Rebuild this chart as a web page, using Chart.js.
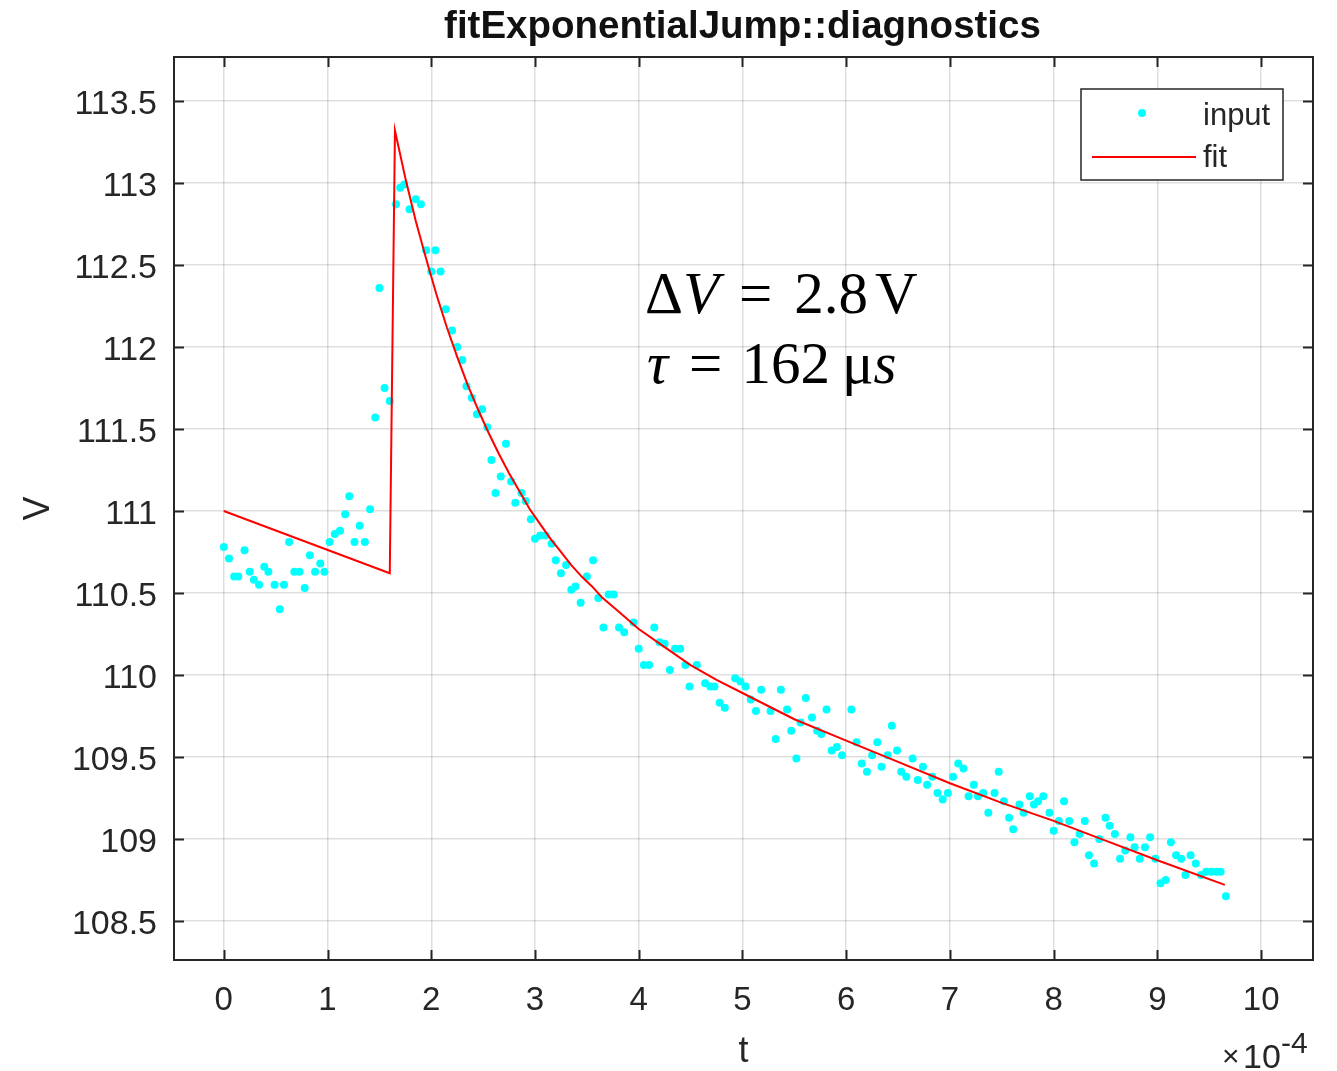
<!DOCTYPE html>
<html>
<head>
<meta charset="utf-8">
<title>fitExponentialJump::diagnostics</title>
<script src="https://cdn.jsdelivr.net/npm/chart.js@4.4.0/dist/chart.umd.min.js"></script>
<style>
  html, body { margin: 0; padding: 0; background: #fff; }
  #wrap { width: 1337px; height: 1071px; }
</style>
</head>
<body>
<div id="wrap"><canvas id="chart" width="1337" height="1071"></canvas></div>
<script>
// Data (t in units of 1e-4 s, V in volts)
const tInput = [
  0.00, 0.05, 0.10, 0.14, 0.20, 0.25, 0.29, 0.34, 0.39, 0.43,
  0.49, 0.54, 0.58, 0.63, 0.68, 0.73, 0.78, 0.83, 0.88, 0.93,
  0.97, 1.02, 1.07, 1.12, 1.17, 1.21, 1.26, 1.31, 1.36, 1.41,
  1.46, 1.50, 1.55, 1.60, 1.66, 1.70, 1.74, 1.79, 1.85, 1.90,
  1.95, 2.00, 2.04, 2.09, 2.14, 2.20, 2.25, 2.30, 2.34, 2.39,
  2.44, 2.49, 2.54, 2.58, 2.62, 2.67, 2.72, 2.77, 2.81, 2.87,
  2.91, 2.96, 3.00, 3.05, 3.10, 3.16, 3.20, 3.25, 3.30, 3.35,
  3.39, 3.44, 3.50, 3.56, 3.61, 3.66, 3.71, 3.76, 3.81, 3.86,
  3.95, 4.00, 4.05, 4.10, 4.15, 4.20, 4.25, 4.30, 4.35, 4.40,
  4.45, 4.49, 4.56, 4.64, 4.69, 4.73, 4.78, 4.83, 4.93, 4.98,
  5.03, 5.08, 5.13, 5.18, 5.27, 5.32, 5.37, 5.43, 5.47, 5.52,
  5.56, 5.61, 5.67, 5.72, 5.76, 5.81, 5.86, 5.91, 5.96, 6.05,
  6.10, 6.15, 6.20, 6.25, 6.30, 6.34, 6.40, 6.44, 6.49, 6.53,
  6.58, 6.64, 6.69, 6.74, 6.78, 6.83, 6.88, 6.93, 6.98, 7.03,
  7.08, 7.13, 7.18, 7.23, 7.27, 7.32, 7.37, 7.43, 7.47, 7.52,
  7.57, 7.61, 7.67, 7.71, 7.77, 7.81, 7.85, 7.90, 7.96, 8.00,
  8.05, 8.10, 8.15, 8.20, 8.25, 8.30, 8.34, 8.39, 8.44, 8.50,
  8.54, 8.59, 8.64, 8.69, 8.74, 8.78, 8.83, 8.88, 8.93, 8.98,
  9.03, 9.08, 9.13, 9.18, 9.23, 9.27, 9.32, 9.37, 9.42, 9.47,
  9.52, 9.57, 9.61, 9.66
];
const vInput = [
  110.78, 110.71, 110.60, 110.60, 110.76, 110.63, 110.58, 110.55, 110.66, 110.63,
  110.55, 110.40, 110.55, 110.81, 110.63, 110.63, 110.53, 110.73, 110.63, 110.68,
  110.63, 110.81, 110.86, 110.88, 110.98, 111.09, 110.81, 110.91, 110.81, 111.01,
  111.57, 112.36, 111.75, 111.67, 112.87, 112.97, 112.99, 112.84, 112.90, 112.87,
  112.59, 112.46, 112.59, 112.46, 112.23, 112.10, 112.00, 111.92, 111.76, 111.69,
  111.59, 111.62, 111.51, 111.31, 111.11, 111.21, 111.41, 111.18, 111.05, 111.11,
  111.06, 110.95, 110.83, 110.85, 110.85, 110.80, 110.70, 110.62, 110.67, 110.52,
  110.54, 110.44, 110.60, 110.70, 110.47, 110.29, 110.49, 110.49, 110.29, 110.26,
  110.32, 110.16, 110.06, 110.06, 110.29, 110.20, 110.19, 110.03, 110.16, 110.16,
  110.06, 109.93, 110.06, 109.95, 109.93, 109.93, 109.83, 109.80, 109.98, 109.96,
  109.93, 109.85, 109.78, 109.91, 109.78, 109.61, 109.91, 109.79, 109.66, 109.49,
  109.71, 109.86, 109.74, 109.66, 109.64, 109.79, 109.54, 109.56, 109.51, 109.79,
  109.59, 109.46, 109.41, 109.51, 109.59, 109.44, 109.51, 109.69, 109.54, 109.41,
  109.38, 109.49, 109.36, 109.44, 109.33, 109.38, 109.28, 109.24, 109.28, 109.38,
  109.46, 109.43, 109.26, 109.33, 109.26, 109.28, 109.16, 109.28, 109.41, 109.23,
  109.13, 109.06, 109.21, 109.16, 109.26, 109.21, 109.23, 109.26, 109.16, 109.05,
  109.11, 109.23, 109.11, 108.98, 109.03, 109.11, 108.90, 108.85, 109.00, 109.13,
  109.08, 109.03, 108.88, 108.93, 109.01, 108.95, 108.88, 108.95, 109.01, 108.88,
  108.73, 108.75, 108.98, 108.90, 108.88, 108.78, 108.90, 108.85, 108.78, 108.80,
  108.80, 108.80, 108.80, 108.65
];

// Fitted curve
const tFit = [0, 1.60, 1.65, 1.75, 1.85, 1.95, 2.05, 2.15, 2.25, 2.35, 2.45, 2.55,
              2.65, 2.75, 2.85, 2.95, 3.05, 3.15, 3.25, 3.35, 3.45, 3.55, 3.65, 3.80,
              4.00, 4.25, 4.50, 4.75, 5.00, 5.50, 6.00, 6.50, 7.00, 7.50, 8.00, 8.50,
              9.00, 9.65];
const vFit = [111.00, 110.62, 113.32, 113.03, 112.77, 112.54, 112.32, 112.12, 111.94, 111.77, 111.62, 111.48,
              111.35, 111.23, 111.12, 111.01, 110.92, 110.83, 110.75, 110.67, 110.60, 110.54, 110.47, 110.39,
              110.28, 110.17, 110.06, 109.97, 109.89, 109.73, 109.60, 109.47, 109.34, 109.22, 109.11, 108.99,
              108.87, 108.72];

// Axis ticks
const xTicks = [0, 1, 2, 3, 4, 5, 6, 7, 8, 9, 10];
const yTicks = [108.5, 109, 109.5, 110, 110.5, 111, 111.5, 112, 112.5, 113, 113.5];

const AXIS_COLOR = '#262626';
const SANS = '"Liberation Sans", Arial, Helvetica, sans-serif';
const SERIF = '"Liberation Serif", "DejaVu Serif", serif';

const inputPoints = tInput.map((t, i) => ({ x: t, y: vInput[i] }));
const fitPoints = tFit.map((t, i) => ({ x: t, y: vFit[i] }));

// draws pieces of mixed-style text one after another
function drawRun(ctx, x, y, pieces, size) {
    pieces.forEach(p => {
        x += p.gap || 0;
        ctx.font = (p.italic ? 'italic ' : '') + size + 'px ' + SERIF;
        ctx.fillText(p.text, x, y);
        x += ctx.measureText(p.text).width;
    });
}

const matlabFrame = {
    id: 'matlabFrame',
    beforeDraw(chart) {
        const ctx = chart.ctx;
        ctx.save();
        ctx.fillStyle = '#fff';
        ctx.fillRect(0, 0, chart.width, chart.height);
        ctx.restore();
    },
    afterDraw(chart) {
        const { ctx, chartArea: a, scales: { x, y } } = chart;
        ctx.save();

        // box + inward ticks on all four sides
        ctx.strokeStyle = AXIS_COLOR;
        ctx.lineWidth = 2;
        ctx.strokeRect(a.left, a.top, a.right - a.left, a.bottom - a.top);
        const tl = 10;
        ctx.beginPath();
        xTicks.forEach(v => {
            const px = Math.round(x.getPixelForValue(v)) + 0.5;
            ctx.moveTo(px, a.bottom); ctx.lineTo(px, a.bottom - tl);
            ctx.moveTo(px, a.top); ctx.lineTo(px, a.top + tl);
        });
        yTicks.forEach(v => {
            const py = Math.round(y.getPixelForValue(v)) + 0.5;
            ctx.moveTo(a.left, py); ctx.lineTo(a.left + tl, py);
            ctx.moveTo(a.right, py); ctx.lineTo(a.right - tl, py);
        });
        ctx.stroke();

        // title
        const cx = (a.left + a.right) / 2;
        ctx.fillStyle = '#111';
        ctx.textAlign = 'center';
        ctx.textBaseline = 'alphabetic';
        ctx.font = 'bold 38.5px ' + SANS;
        ctx.fillText('fitExponentialJump::diagnostics', cx - 1, 38);

        // axis labels
        ctx.fillStyle = AXIS_COLOR;
        ctx.font = '36px ' + SANS;
        ctx.fillText('t', cx, 1062);
        ctx.save();
        ctx.translate(49, (a.top + a.bottom) / 2);
        ctx.rotate(-Math.PI / 2);
        ctx.fillText('V', 0, 0);
        ctx.restore();

        // exponent of x axis
        ctx.textAlign = 'left';
        ctx.font = '30px ' + SANS;
        ctx.fillText('\u00d7', a.right - 91, 1066);
        ctx.font = '34px ' + SANS;
        ctx.fillText('10', a.right - 70, 1068);
        ctx.font = '30px ' + SANS;
        ctx.fillText('-4', a.right - 32, 1053);

        // legend
        const lx = 1081, ly = 89, lw = 202, lh = 91;
        ctx.fillStyle = '#fff';
        ctx.fillRect(lx, ly, lw, lh);
        ctx.strokeStyle = AXIS_COLOR;
        ctx.lineWidth = 1.5;
        ctx.strokeRect(lx, ly, lw, lh);
        ctx.fillStyle = '#00FFFF';
        ctx.beginPath();
        ctx.arc(lx + 61, ly + 24, 4, 0, Math.PI * 2);
        ctx.fill();
        ctx.strokeStyle = '#FF0000';
        ctx.lineWidth = 2;
        ctx.beginPath();
        ctx.moveTo(lx + 11, ly + 68);
        ctx.lineTo(lx + 115, ly + 68);
        ctx.stroke();
        ctx.fillStyle = AXIS_COLOR;
        ctx.font = '31px ' + SANS;
        ctx.textBaseline = 'middle';
        ctx.fillText('input', lx + 122, ly + 27);
        ctx.fillText('fit', lx + 122, ly + 69);

        // fit result annotation
        ctx.fillStyle = '#000';
        ctx.textBaseline = 'alphabetic';
        drawRun(ctx, 645, 313, [
            { text: '\u0394' },
            { text: 'V', italic: true },
            { text: '=', gap: 20 },
            { text: '2.8', gap: 22 },
            { text: 'V', gap: 7 }
        ], 59);
        drawRun(ctx, 647, 383, [
            { text: '\u03c4', italic: true },
            { text: '=', gap: 21 },
            { text: '162', gap: 19 },
            { text: '\u03bc', gap: 12 },
            { text: 's', italic: true }
        ], 59);

        ctx.restore();
    }
};

const ctx = document.getElementById('chart').getContext('2d');
new Chart(ctx, {
    type: 'scatter',
    data: {
        datasets: [
            {
                label: 'fit',
                data: fitPoints,
                showLine: true,
                borderColor: '#FF0000',
                borderWidth: 2,
                pointRadius: 0,
                fill: false,
                tension: 0,
                order: 0
            },
            {
                label: 'input',
                data: inputPoints,
                showLine: false,
                backgroundColor: '#00FFFF',
                borderWidth: 0,
                pointRadius: 4,
                order: 1
            }
        ]
    },
    options: {
        responsive: false,
        animation: false,
        devicePixelRatio: 1,
        layout: { padding: { left: 0, right: 24, top: 57, bottom: 0 } },
        plugins: {
            legend: { display: false },
            title: { display: false },
            tooltip: { enabled: false }
        },
        scales: {
            x: {
                type: 'linear',
                min: -0.48,
                max: 10.5,
                afterBuildTicks: s => { s.ticks = xTicks.map(v => ({ value: v })); },
                afterFit: s => { s.height = 111; },
                grid: { color: 'rgba(0,0,0,0.13)', lineWidth: 1.5, drawTicks: false },
                border: { display: false },
                ticks: {
                    color: AXIS_COLOR,
                    font: { family: SANS, size: 33 },
                    padding: 21,
                    maxRotation: 0,
                    callback: v => String(v)
                }
            },
            y: {
                type: 'linear',
                min: 108.262,
                max: 113.768,
                afterBuildTicks: s => { s.ticks = yTicks.map(v => ({ value: v })); },
                afterFit: s => { s.width = 174; },
                grid: { color: 'rgba(0,0,0,0.13)', lineWidth: 1.5, drawTicks: false },
                border: { display: false },
                ticks: {
                    color: AXIS_COLOR,
                    font: { family: SANS, size: 34 },
                    padding: 17,
                    labelOffset: 4,
                    callback: v => String(v)
                }
            }
        }
    },
    plugins: [matlabFrame]
});
</script>
</body>
</html>
